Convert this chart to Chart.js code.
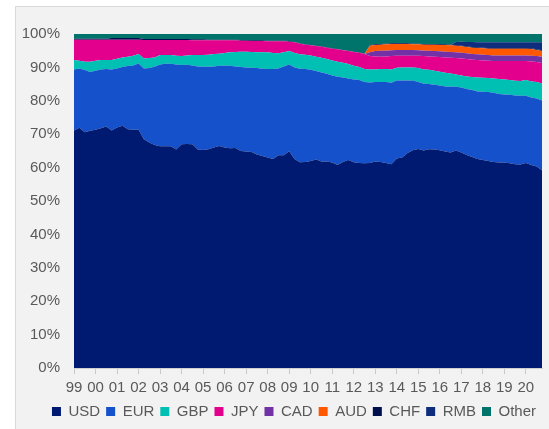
<!DOCTYPE html>
<html>
<head>
<meta charset="utf-8">
<script src="https://cdn.jsdelivr.net/npm/chart.js@4.4.0/dist/chart.umd.min.js"></script>
<style>
  html, body { margin: 0; padding: 0; background: #fff; overflow: hidden; }
  .frame { position: absolute; left: 15px; top: 6px; width: 600px; height: 500px; background: #f2f2f2; border: 1px solid #d9d9d9; }
  .chart-container { position: absolute; left: 0; top: 0; width: 549px; height: 429px; }
</style>
</head>
<body>
<div class="frame"></div>
<div class="chart-container"><canvas id="chart" width="549" height="429"></canvas></div>
<script>
// quarterly, 1999Q1 - 2020Q4
const quarters = [
  '1999Q1','1999Q2','1999Q3','1999Q4','2000Q1','2000Q2','2000Q3','2000Q4',
  '2001Q1','2001Q2','2001Q3','2001Q4','2002Q1','2002Q2','2002Q3','2002Q4',
  '2003Q1','2003Q2','2003Q3','2003Q4','2004Q1','2004Q2','2004Q3','2004Q4',
  '2005Q1','2005Q2','2005Q3','2005Q4','2006Q1','2006Q2','2006Q3','2006Q4',
  '2007Q1','2007Q2','2007Q3','2007Q4','2008Q1','2008Q2','2008Q3','2008Q4',
  '2009Q1','2009Q2','2009Q3','2009Q4','2010Q1','2010Q2','2010Q3','2010Q4',
  '2011Q1','2011Q2','2011Q3','2011Q4','2012Q1','2012Q2','2012Q3','2012Q4',
  '2013Q1','2013Q2','2013Q3','2013Q4','2014Q1','2014Q2','2014Q3','2014Q4',
  '2015Q1','2015Q2','2015Q3','2015Q4','2016Q1','2016Q2','2016Q3','2016Q4',
  '2017Q1','2017Q2','2017Q3','2017Q4','2018Q1','2018Q2','2018Q3','2018Q4',
  '2019Q1','2019Q2','2019Q3','2019Q4','2020Q1','2020Q2','2020Q3','2020Q4'
];

const yTicks = [0, 10, 20, 30, 40, 50, 60, 70, 80, 90, 100];

const usd = [
  71.1,71.9,70.6,71.0,71.3,71.8,72.3,71.1,72.0,72.5,
  71.5,71.3,71.3,68.5,67.5,66.8,66.4,66.4,66.4,65.4,
  67.0,67.1,67.0,65.4,65.3,65.5,66.0,66.5,66.0,65.8,
  65.9,65.0,64.8,64.7,63.9,63.5,63.0,62.6,63.7,63.7,
  64.9,62.6,61.6,61.7,62.0,62.4,61.8,61.8,61.5,60.8,
  61.7,62.3,61.6,61.4,61.3,61.4,61.8,61.7,61.4,61.0,
  62.7,63.0,64.4,65.2,65.6,65.1,65.5,65.4,65.2,64.8,
  64.5,65.1,64.5,63.8,63.2,62.6,62.3,62.0,61.7,61.5,
  61.5,61.3,61.0,60.9,61.4,60.8,60.3,59.2
];
const eur = [
  18.3,17.8,18.6,17.6,17.7,17.6,17.2,18.3,17.7,17.6,
  18.9,19.3,19.9,21.2,22.3,23.4,24.5,24.7,24.7,25.5,
  23.7,23.7,23.6,24.9,24.9,24.7,24.3,24.0,24.5,24.7,
  24.4,25.1,25.2,25.2,25.9,26.1,26.5,26.9,26.0,26.6,
  26.0,27.4,28.0,27.8,27.3,26.5,26.7,26.3,26.1,26.4,
  25.3,24.4,24.8,24.8,24.3,24.1,23.8,23.9,24.2,24.4,
  23.4,23.1,21.7,20.9,20.0,20.0,19.5,19.4,19.4,19.5,
  19.7,19.1,19.5,19.7,20.0,20.2,20.4,20.6,20.7,20.5,
  20.4,20.5,20.6,20.6,20.1,20.2,20.4,20.9
];
const gbp = [
  2.8,2.3,2.5,3.1,3.0,2.8,2.7,2.8,2.9,2.9,
  2.8,2.9,2.8,3.0,3.0,2.8,2.8,2.6,2.6,2.6,
  2.7,2.8,3.1,3.4,3.5,3.6,3.7,3.6,3.8,4.0,
  4.3,4.6,4.7,4.7,4.7,4.9,5.0,4.8,4.5,4.2,
  4.0,4.3,4.3,4.3,4.3,4.3,4.4,4.4,4.5,4.5,
  4.4,4.3,4.1,3.9,3.9,3.9,3.8,3.9,3.9,4.0,
  3.8,3.9,3.9,3.9,4.2,4.3,4.3,4.2,4.1,4.1,
  4.0,3.7,3.6,3.8,3.9,4.2,4.2,4.2,4.3,4.5,
  4.5,4.4,4.4,4.4,4.7,4.8,4.9,5.1
];
const jpy = [
  6.1,6.3,6.6,6.6,6.3,6.1,6.1,6.1,5.7,5.3,
  5.1,4.8,4.3,5.5,5.4,5.2,4.5,4.5,4.5,4.7,
  4.8,4.6,4.4,4.4,4.4,4.3,4.1,4.0,3.8,3.6,
  3.5,3.3,3.3,3.3,3.4,3.4,3.3,3.5,3.6,3.3,
  2.8,3.2,3.2,3.0,3.0,3.2,3.3,3.4,3.5,3.7,
  3.7,3.9,4.1,4.3,4.5,4.0,3.9,3.7,3.8,4.0,
  3.6,3.5,3.5,3.5,3.7,4.0,4.0,4.2,4.4,4.6,
  4.7,4.9,5.1,5.2,5.2,5.2,5.2,5.2,5.2,5.4,
  5.5,5.7,5.9,6.0,5.7,6.0,6.0,6.1
];
const cad = [
  0,0,0,0,0,0,0,0,0,0,
  0,0,0,0,0,0,0,0,0,0,
  0,0,0,0,0,0,0,0,0,0,
  0,0,0,0,0,0,0,0,0,0,
  0,0,0,0,0,0,0,0,0,0,
  0,0,0,0,0,1.1,1.6,1.8,1.7,1.7,
  1.7,1.7,1.7,1.7,1.6,1.6,1.7,1.7,1.7,1.7,
  1.7,1.7,1.7,1.7,1.7,1.7,1.7,1.7,1.7,1.7,
  1.7,1.7,1.7,1.7,1.7,1.7,1.8,1.9
];
const aud = [
  0,0,0,0,0,0,0,0,0,0,
  0,0,0,0,0,0,0,0,0,0,
  0,0,0,0,0,0,0,0,0,0,
  0,0,0,0,0,0,0,0,0,0,
  0,0,0,0,0,0,0,0,0,0,
  0,0,0,0,0,2.0,1.8,1.8,1.9,1.9,
  1.8,1.8,1.8,1.7,1.8,1.8,1.8,1.9,1.9,2.0,
  2.0,2.0,1.9,1.9,1.9,1.9,1.9,1.9,2.0,2.0,
  2.0,2.0,2.0,2.0,2.0,2.0,1.8,1.7
];
const chf = [
  0.3,0.3,0.3,0.3,0.3,0.3,0.3,0.5,0.5,0.5,
  0.5,0.5,0.5,0.3,0.3,0.3,0.3,0.3,0.3,0.3,
  0.3,0.3,0.3,0.3,0.3,0.2,0.2,0.2,0.2,0.2,
  0.2,0.2,0.2,0.2,0.2,0.2,0.2,0.2,0.2,0.2,
  0.2,0.1,0.1,0.1,0.1,0.1,0.1,0.1,0.1,0.1,
  0.1,0.1,0.1,0.1,0.1,0.2,0.2,0.2,0.2,0.2,
  0.2,0.2,0.2,0.2,0.2,0.2,0.2,0.2,0.2,0.2,
  0.2,0.2,0.2,0.2,0.2,0.2,0.2,0.2,0.2,0.2,
  0.2,0.2,0.2,0.2,0.2,0.2,0.2,0.2
];
const rmb = [
  0,0,0,0,0,0,0,0,0,0,
  0,0,0,0,0,0,0,0,0,0,
  0,0,0,0,0,0,0,0,0,0,
  0,0,0,0,0,0,0,0,0,0,
  0,0,0,0,0,0,0,0,0,0,
  0,0,0,0,0,0,0,0,0,0,
  0,0,0,0,0,0,0,0,0,0,
  0,0.9,1.2,1.3,1.5,1.5,1.6,1.7,1.7,1.7,
  1.7,1.7,1.7,1.7,1.7,1.8,2.1,2.4
];
const other = [
  1.4,1.4,1.4,1.4,1.4,1.4,1.4,1.2,1.2,1.2,
  1.2,1.2,1.2,1.5,1.5,1.5,1.5,1.5,1.5,1.5,
  1.5,1.5,1.6,1.6,1.6,1.7,1.7,1.7,1.7,1.7,
  1.7,1.8,1.8,1.9,1.9,1.9,2.0,2.0,2.0,2.0,
  2.1,2.4,2.8,3.1,3.3,3.5,3.7,4.0,4.3,4.5,
  4.8,5.0,5.3,5.5,5.9,3.3,3.1,3.0,2.9,2.8,
  2.8,2.8,2.8,2.9,2.9,3.0,3.0,3.0,3.1,3.1,
  3.2,2.4,2.3,2.4,2.4,2.5,2.5,2.5,2.5,2.5,
  2.5,2.5,2.5,2.5,2.5,2.5,2.5,2.5
];

const series = [
  { label: 'USD', data: usd, color: '#001a72' },
  { label: 'EUR', data: eur, color: '#1651cc' },
  { label: 'GBP', data: gbp, color: '#00bfb3' },
  { label: 'JPY', data: jpy, color: '#e3008c' },
  { label: 'CAD', data: cad, color: '#7331a6' },
  { label: 'AUD', data: aud, color: '#ff5800' },
  { label: 'CHF', data: chf, color: '#000f4d' },
  { label: 'RMB', data: rmb, color: '#0e2d7c' },
  { label: 'Other', data: other, color: '#00736b' }
];

const fontFamily = "'Liberation Sans', Arial, sans-serif";
const ctx = document.getElementById('chart').getContext('2d');

new Chart(ctx, {
  type: 'line',
  data: {
    labels: quarters,
    datasets: series.map((s, i) => ({
      label: s.label,
      data: s.data,
      backgroundColor: s.color,
      borderColor: s.color,
      borderWidth: 0,
      pointRadius: 0,
      tension: 0,
      fill: i === 0 ? 'origin' : '-1',
    })),
  },
  options: {
    responsive: false,
    animation: false,
    layout: { padding: { left: 14, right: 7, top: 34, bottom: 0 } },
    plugins: {
      legend: {
        position: 'bottom',
        align: 'end',
        labels: {
          boxWidth: 9,
          boxHeight: 9,
          padding: 6,
          color: '#595959',
          font: { family: fontFamily, size: 15 },
        },
      },
      tooltip: { enabled: false },
    },
    scales: {
      x: {
        ticks: {
          autoSkip: false,
          maxRotation: 0,
          padding: 5,
          color: '#595959',
          font: { family: fontFamily, size: 15 },
          callback: function (value, index) {
            return index % 4 === 0 ? this.getLabelForValue(value).slice(2, 4) : '';
          },
        },
        grid: {
          drawOnChartArea: false,
          tickLength: 6,
          color: (c) => (c.index % 4 === 0 ? '#c8c8c8' : 'rgba(0,0,0,0)'),
        },
        border: { display: true, color: '#d0d0d0' },
        afterFit: (scale) => { scale.height = 30; },
      },
      y: {
        stacked: true,
        min: 0,
        max: 100,
        afterBuildTicks: (scale) => { scale.ticks = yTicks.map(v => ({ value: v })); },
        ticks: {
          padding: 14,
          color: '#595959',
          font: { family: fontFamily, size: 15 },
          callback: (v) => v + '%',
        },
        grid: { display: false, drawTicks: false },
        border: { display: false },
        afterFit: (scale) => { scale.width = 60; },
      },
    },
  },
});
</script>
</body>
</html>
